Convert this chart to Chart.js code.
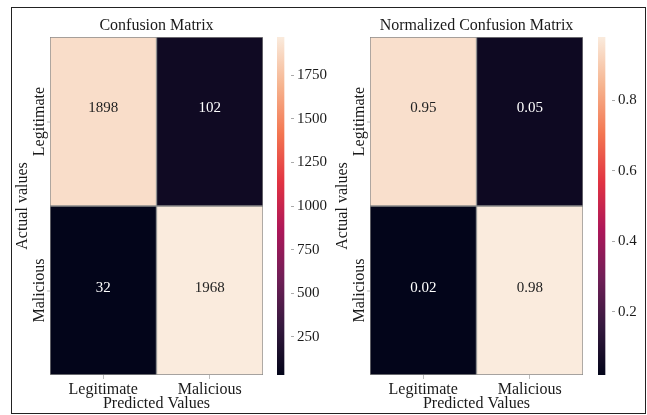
<!DOCTYPE html>
<html>
<head>
<meta charset="utf-8">
<script src="https://cdn.jsdelivr.net/npm/chart.js@4.4.1/dist/chart.umd.min.js"></script>
<style>
  html, body { margin: 0; padding: 0; background: #fff; }
  #fig { position: relative; width: 647px; height: 415px; overflow: hidden; background: #fff; }
  #frame { position: absolute; left: 11px; top: 7px; width: 635px; height: 407px;
           box-sizing: border-box; border: 1px solid #222; }
  canvas { position: absolute; top: 0; display: block; }
</style>
</head>
<body>
<div id="fig">
  <div id="frame"></div>
  <canvas id="cmCounts" width="263" height="415" style="left:0px"></canvas>
  <canvas id="cbCounts" width="59" height="415" style="left:270px"></canvas>
  <canvas id="cmRates" width="263" height="415" style="left:320px"></canvas>
  <canvas id="cbRates" width="59" height="415" style="left:591px"></canvas>
</div>
<script>
// ---- data ----
const predictedLabels = ['Legitimate', 'Malicious'];
const actualLabels = ['Legitimate', 'Malicious'];
const countMatrix = [[1898, 102], [32, 1968]];
const rateMatrix = [[0.95, 0.05], [0.02, 0.98]];
const countTicks = [250, 500, 750, 1000, 1250, 1500, 1750];
const rateTicks = [0.2, 0.4, 0.6, 0.8];

const SERIF = '"Liberation Serif", "Times New Roman", serif';
const INK = '#1a1a1a';

// "rocket" sequential colormap, sampled
const rocketStops = [
  [0.000, '#03051a'], [0.143, '#35193e'], [0.286, '#701f57'], [0.429, '#ad1759'],
  [0.571, '#e13342'], [0.714, '#f37651'], [0.857, '#f6b48f'], [1.000, '#faebdd']
];
function hexRgb(h) { return [1, 3, 5].map(i => parseInt(h.slice(i, i + 2), 16)); }
function rocket(t) {
  t = Math.max(0, Math.min(1, t));
  for (let i = 1; i < rocketStops.length; i++) {
    const [t1, c1] = rocketStops[i];
    if (t <= t1) {
      const [t0, c0] = rocketStops[i - 1];
      const f = (t - t0) / (t1 - t0);
      const a = hexRgb(c0), b = hexRgb(c1);
      const m = a.map((v, k) => Math.round(v + (b[k] - v) * f));
      return `rgb(${m[0]},${m[1]},${m[2]})`;
    }
  }
  return rocketStops[rocketStops.length - 1][1];
}
function isLight(rgb) {
  const m = rgb.match(/\d+/g).map(Number);
  return (0.299 * m[0] + 0.587 * m[1] + 0.114 * m[2]) > 140;
}

// value text inside each cell
const cellText = {
  id: 'cellText',
  afterDatasetsDraw(chart, args, opts) {
    const ctx = chart.ctx;
    ctx.save();
    ctx.font = '15px ' + SERIF;
    ctx.textAlign = 'center';
    ctx.textBaseline = 'middle';
    chart.data.datasets.forEach((ds, r) => {
      chart.getDatasetMeta(r).data.forEach((bar, c) => {
        ctx.fillStyle = isLight(ds.backgroundColor[c]) ? '#222' : '#fff';
        const y = (bar.y + bar.base) / 2 + (opts.shift ? opts.shift[r] : 0);
        ctx.fillText(opts.format(ds.values[c]), bar.x, y);
      });
    });
    ctx.restore();
  }
};

// vertical row labels on the left of the matrix
const rowLabels = {
  id: 'rowLabels',
  afterDraw(chart, args, opts) {
    const ctx = chart.ctx;
    const ys = chart.scales.y;
    const left = chart.chartArea.left;
    const n = opts.labels.length;
    ctx.save();
    opts.labels.forEach((lab, r) => {
      const y = ys.getPixelForValue(n - r - 0.5);
      ctx.strokeStyle = '#bbb';
      ctx.lineWidth = 1;
      ctx.beginPath();
      ctx.moveTo(left - 3, y + 0.5);
      ctx.lineTo(left, y + 0.5);
      ctx.stroke();
      ctx.translate(left - 10, y);
      ctx.rotate(-Math.PI / 2);
      ctx.font = '16px ' + SERIF;
      ctx.fillStyle = INK;
      ctx.textAlign = 'center';
      ctx.textBaseline = 'middle';
      ctx.fillText(lab, 0, 0);
      ctx.setTransform(1, 0, 0, 1, 0, 0);
    });
    ctx.restore();
  }
};

function makeHeatmap(id, matrix, title, format) {
  const flat = matrix.flat();
  const vmin = Math.min(...flat), vmax = Math.max(...flat);
  const n = matrix.length;
  const datasets = matrix.map((row, r) => ({
    label: actualLabels[r],
    data: row.map(() => [n - r - 1, n - r]),
    values: row,
    backgroundColor: row.map(v => rocket((v - vmin) / (vmax - vmin))),
    borderColor: 'rgba(125,125,125,0.9)',
    borderWidth: 1,
    borderSkipped: false,
    grouped: false,
    barPercentage: 1,
    categoryPercentage: 1
  }));
  return new Chart(document.getElementById(id), {
    type: 'bar',
    data: { labels: predictedLabels, datasets },
    options: {
      responsive: false, animation: false, devicePixelRatio: 1,
      layout: { padding: { left: 13, top: 0, right: 0, bottom: 0 } },
      plugins: {
        legend: { display: false },
        tooltip: { enabled: false },
        title: {
          display: true, text: title, fullSize: false, color: INK,
          font: { family: SERIF, size: 16, weight: 'normal', lineHeight: 1.25 },
          padding: { top: 16, bottom: 1 }
        },
        cellText: { format, shift: [-13, -2] },
        rowLabels: { labels: actualLabels }
      },
      scales: {
        x: {
          type: 'category', offset: true,
          grid: { display: true, offset: false, drawOnChartArea: false, tickLength: 4, color: '#bbb' },
          border: { display: false },
          ticks: { color: INK, font: { family: SERIF, size: 16 }, padding: 1, maxRotation: 0 },
          title: { display: true, text: 'Predicted Values', color: INK,
                   font: { family: SERIF, size: 16, lineHeight: 1.25 }, padding: { top: 0, bottom: 1 } },
          afterFit: s => { s.height = 40; }
        },
        y: {
          min: 0, max: n,
          ticks: { display: false },
          grid: { display: false },
          border: { display: false },
          title: { display: true, text: 'Actual values', color: INK,
                   font: { family: SERIF, size: 16, lineHeight: 1.25 }, padding: 0 },
          afterFit: s => { s.width = 37; }
        }
      }
    },
    plugins: [cellText, rowLabels]
  });
}

function makeColorbar(id, matrix, tickValues, format) {
  const flat = matrix.flat();
  const vmin = Math.min(...flat), vmax = Math.max(...flat);
  return new Chart(document.getElementById(id), {
    type: 'bar',
    data: {
      labels: [''],
      datasets: [{
        data: [[vmin, vmax]],
        backgroundColor: c => {
          const chart = c.chart, ys = chart.scales.y;
          if (!chart.chartArea || !ys) return rocket(0.5);
          const g = chart.ctx.createLinearGradient(0, ys.getPixelForValue(vmin), 0, ys.getPixelForValue(vmax));
          rocketStops.forEach(([t, col]) => g.addColorStop(t, col));
          return g;
        },
        borderWidth: 0,
        barPercentage: 1,
        categoryPercentage: 1
      }]
    },
    options: {
      responsive: false, animation: false, devicePixelRatio: 1,
      layout: { padding: { left: 7, top: 37, bottom: 40, right: 0 } },
      plugins: { legend: { display: false }, tooltip: { enabled: false } },
      scales: {
        x: { display: false, offset: false },
        y: {
          position: 'right', min: vmin, max: vmax,
          afterBuildTicks: s => { s.ticks = tickValues.map(v => ({ value: v })); },
          afterFit: s => { s.width = 38; },
          grid: { drawOnChartArea: false, tickLength: 3, color: '#aaa' },
          border: { display: false },
          ticks: { padding: 3, color: INK, font: { family: SERIF, size: 15 }, callback: v => format(v) }
        }
      }
    }
  });
}

makeHeatmap('cmCounts', countMatrix, 'Confusion Matrix', v => String(v));
makeColorbar('cbCounts', countMatrix, countTicks, v => String(v));
makeHeatmap('cmRates', rateMatrix, 'Normalized Confusion Matrix', v => v.toFixed(2));
makeColorbar('cbRates', rateMatrix, rateTicks, v => v.toFixed(1));
</script>
</body>
</html>
